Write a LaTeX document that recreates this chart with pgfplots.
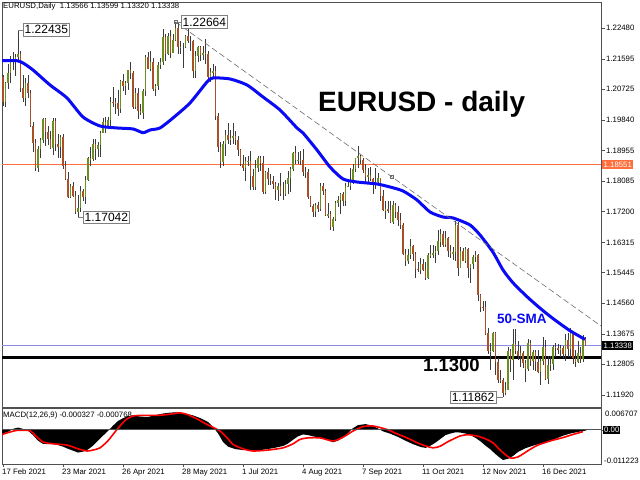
\documentclass[border=0pt]{standalone}
\usepackage{fontspec}
\setmainfont{Liberation Sans}
\usepackage{pgfplots}
\usepackage{pgfplotstable}
\pgfplotsset{compat=1.18}
\definecolor{bull}{RGB}{107,142,35}
\definecolor{bear}{RGB}{170,80,40}
\definecolor{wick}{RGB}{60,60,60}
\definecolor{orng}{RGB}{255,110,60}
\definecolor{lav}{RGB}{140,140,230}
\definecolor{frame}{RGB}{80,80,80}
\definecolor{smablue}{RGB}{10,10,245}
\definecolor{tline}{RGB}{110,110,110}
\newcommand{\sm}{\fontsize{7.8bp}{9bp}\selectfont}
\pgfplotstableread{
i o h l c
0 1.2107 1.2114 1.2023 1.2037
1 1.2037 1.2093 1.2022 1.2091
2 1.2091 1.2145 1.2074 1.2118
3 1.2118 1.2168 1.2091 1.2157
4 1.2157 1.2180 1.2128 1.2151
5 1.2151 1.2175 1.2111 1.2166
6 1.2166 1.2243 1.2150 1.2174
7 1.2174 1.2182 1.2065 1.2075
8 1.2075 1.2113 1.2035 1.2048
9 1.2048 1.2104 1.2025 1.2091
10 1.2091 1.2114 1.2047 1.2062
11 1.2062 1.2070 1.1963 1.1968
12 1.1968 1.1977 1.1893 1.1918
13 1.1918 1.1930 1.1836 1.1847
14 1.1847 1.1910 1.1835 1.1900
15 1.1900 1.1932 1.1873 1.1927
16 1.1927 1.1990 1.1919 1.1986
17 1.1986 1.1990 1.1910 1.1950
18 1.1950 1.1966 1.1913 1.1930
19 1.1930 1.1952 1.1899 1.1902
20 1.1902 1.1989 1.1884 1.1980
21 1.1980 1.1990 1.1896 1.1914
22 1.1914 1.1944 1.1874 1.1905
23 1.1905 1.1942 1.1873 1.1935
24 1.1935 1.1944 1.1842 1.1851
25 1.1851 1.1867 1.1810 1.1813
26 1.1813 1.1833 1.1760 1.1763
27 1.1763 1.1800 1.1760 1.1795
28 1.1795 1.1805 1.1762 1.1764
29 1.1764 1.1779 1.1712 1.1718
30 1.1718 1.1767 1.1704 1.1730
31 1.1730 1.1795 1.1720 1.1780
32 1.1780 1.1786 1.1750 1.1761
33 1.1761 1.1822 1.1742 1.1812
34 1.1812 1.1878 1.1809 1.1875
35 1.1875 1.1907 1.1852 1.1871
36 1.1871 1.1928 1.1865 1.1916
37 1.1916 1.1929 1.1870 1.1899
38 1.1899 1.1921 1.1876 1.1911
39 1.1911 1.1951 1.1876 1.1947
40 1.1947 1.1990 1.1945 1.1979
41 1.1979 1.1994 1.1946 1.1965
42 1.1965 1.1994 1.1957 1.1983
43 1.1983 1.2049 1.1964 1.2036
44 1.2036 1.2079 1.2020 1.2035
45 1.2035 1.2048 1.2002 1.2033
46 1.2033 1.2071 1.1995 1.2016
47 1.2016 1.2100 1.2005 1.2097
48 1.2097 1.2117 1.2068 1.2083
49 1.2083 1.2095 1.2056 1.2090
50 1.2090 1.2129 1.2071 1.2127
51 1.2127 1.2150 1.2103 1.2120
52 1.2120 1.2125 1.2016 1.2020
53 1.2020 1.2075 1.2016 1.2062
54 1.2062 1.2076 1.1986 1.2011
55 1.2011 1.2029 1.1997 1.2005
56 1.2005 1.2072 1.1986 1.2067
57 1.2067 1.2172 1.2052 1.2165
58 1.2165 1.2180 1.2130 1.2132
59 1.2132 1.2182 1.2125 1.2150
60 1.2150 1.2163 1.2068 1.2072
61 1.2072 1.2087 1.2052 1.2081
62 1.2081 1.2152 1.2071 1.2143
63 1.2143 1.2161 1.2131 1.2150
64 1.2150 1.2245 1.2143 1.2223
65 1.2223 1.2231 1.2153 1.2174
66 1.2174 1.2233 1.2172 1.2226
67 1.2226 1.2244 1.2161 1.2178
68 1.2178 1.2232 1.2178 1.2214
69 1.2214 1.2266 1.2211 1.2250
70 1.2250 1.2263 1.2175 1.2193
71 1.2193 1.2211 1.2173 1.2194
72 1.2194 1.2205 1.2133 1.2194
73 1.2194 1.2229 1.2191 1.2225
74 1.2225 1.2254 1.2207 1.2212
75 1.2212 1.2226 1.2184 1.2212
76 1.2212 1.2214 1.2104 1.2125
77 1.2125 1.2184 1.2104 1.2167
78 1.2167 1.2198 1.2150 1.2193
79 1.2193 1.2196 1.2153 1.2172
80 1.2172 1.2196 1.2158 1.2178
81 1.2178 1.2218 1.2144 1.2174
82 1.2174 1.2182 1.2093 1.2107
83 1.2107 1.2134 1.2093 1.2121
84 1.2121 1.2144 1.2105 1.2125
85 1.2125 1.2138 1.1985 1.1995
86 1.1995 1.2005 1.1892 1.1907
87 1.1907 1.1921 1.1847 1.1863
88 1.1863 1.1922 1.1850 1.1915
89 1.1915 1.1955 1.1879 1.1941
90 1.1941 1.1974 1.1915 1.1925
91 1.1925 1.1955 1.1913 1.1933
92 1.1933 1.1975 1.1916 1.1937
93 1.1937 1.1952 1.1911 1.1925
94 1.1925 1.1937 1.1879 1.1897
95 1.1897 1.1901 1.1851 1.1857
96 1.1857 1.1884 1.1838 1.1847
97 1.1847 1.1877 1.1807 1.1865
98 1.1865 1.1880 1.1850 1.1867
99 1.1867 1.1895 1.1782 1.1823
100 1.1823 1.1843 1.1783 1.1792
101 1.1792 1.1868 1.1781 1.1845
102 1.1845 1.1880 1.1833 1.1875
103 1.1875 1.1881 1.1836 1.1860
104 1.1860 1.1880 1.1772 1.1776
105 1.1776 1.1837 1.1772 1.1834
106 1.1834 1.1847 1.1796 1.1813
107 1.1813 1.1827 1.1796 1.1807
108 1.1807 1.1823 1.1786 1.1800
109 1.1800 1.1804 1.1753 1.1781
110 1.1781 1.1801 1.1751 1.1795
111 1.1795 1.1831 1.1765 1.1771
112 1.1771 1.1804 1.1754 1.1771
113 1.1771 1.1812 1.1765 1.1800
114 1.1800 1.1838 1.1770 1.1818
115 1.1818 1.1849 1.1778 1.1844
116 1.1844 1.1892 1.1838 1.1888
117 1.1888 1.1909 1.1857 1.1868
118 1.1868 1.1892 1.1857 1.1869
119 1.1869 1.1896 1.1853 1.1868
120 1.1868 1.1900 1.1823 1.1835
121 1.1835 1.1849 1.1817 1.1834
122 1.1834 1.1844 1.1755 1.1761
123 1.1761 1.1766 1.1733 1.1735
124 1.1735 1.1743 1.1705 1.1719
125 1.1719 1.1744 1.1706 1.1739
126 1.1739 1.1748 1.1719 1.1728
127 1.1728 1.1802 1.1722 1.1793
128 1.1793 1.1802 1.1768 1.1779
129 1.1779 1.1784 1.1706 1.1711
130 1.1711 1.1744 1.1702 1.1712
131 1.1712 1.1722 1.1666 1.1676
132 1.1676 1.1704 1.1664 1.1699
133 1.1699 1.1752 1.1692 1.1746
134 1.1746 1.1764 1.1734 1.1754
135 1.1754 1.1775 1.1712 1.1772
136 1.1772 1.1778 1.1735 1.1750
137 1.1750 1.1802 1.1735 1.1794
138 1.1794 1.1808 1.1790 1.1795
139 1.1795 1.1846 1.1783 1.1807
140 1.1807 1.1857 1.1801 1.1843
141 1.1843 1.1875 1.1835 1.1875
142 1.1875 1.1909 1.1847 1.1880
143 1.1880 1.1883 1.1858 1.1869
144 1.1869 1.1875 1.1830 1.1839
145 1.1839 1.1856 1.1803 1.1819
146 1.1819 1.1845 1.1800 1.1826
147 1.1826 1.1850 1.1809 1.1813
148 1.1813 1.1817 1.1772 1.1806
149 1.1806 1.1845 1.1784 1.1805
150 1.1805 1.1830 1.1801 1.1816
151 1.1816 1.1818 1.1751 1.1766
152 1.1766 1.1783 1.1723 1.1725
153 1.1725 1.1750 1.1700 1.1727
154 1.1727 1.1752 1.1716 1.1724
155 1.1724 1.1752 1.1686 1.1690
156 1.1690 1.1750 1.1685 1.1740
157 1.1740 1.1744 1.1701 1.1720
158 1.1720 1.1737 1.1680 1.1696
159 1.1696 1.1716 1.1669 1.1682
160 1.1682 1.1686 1.1596 1.1597
161 1.1597 1.1612 1.1563 1.1578
162 1.1578 1.1612 1.1568 1.1596
163 1.1596 1.1640 1.1584 1.1620
164 1.1620 1.1624 1.1579 1.1598
165 1.1598 1.1603 1.1529 1.1555
166 1.1555 1.1576 1.1545 1.1553
167 1.1553 1.1587 1.1539 1.1569
168 1.1569 1.1583 1.1548 1.1553
169 1.1553 1.1574 1.1524 1.1528
170 1.1528 1.1600 1.1525 1.1594
171 1.1594 1.1624 1.1585 1.1597
172 1.1597 1.1624 1.1587 1.1601
173 1.1601 1.1620 1.1571 1.1608
174 1.1608 1.1668 1.1596 1.1634
175 1.1634 1.1669 1.1618 1.1655
176 1.1655 1.1664 1.1618 1.1623
177 1.1623 1.1665 1.1619 1.1644
178 1.1644 1.1647 1.1589 1.1607
179 1.1607 1.1625 1.1586 1.1597
180 1.1597 1.1617 1.1582 1.1604
181 1.1604 1.1692 1.1579 1.1681
182 1.1681 1.1690 1.1535 1.1558
183 1.1558 1.1617 1.1558 1.1608
184 1.1608 1.1616 1.1577 1.1579
185 1.1579 1.1617 1.1571 1.1612
186 1.1612 1.1616 1.1529 1.1557
187 1.1557 1.1569 1.1513 1.1568
188 1.1568 1.1595 1.1555 1.1590
189 1.1590 1.1608 1.1576 1.1594
190 1.1594 1.1598 1.1464 1.1479
191 1.1479 1.1482 1.1432 1.1446
192 1.1446 1.1464 1.1433 1.1444
193 1.1444 1.1464 1.1366 1.1369
194 1.1369 1.1386 1.1310 1.1319
195 1.1319 1.1342 1.1264 1.1320
196 1.1320 1.1374 1.1315 1.1370
197 1.1370 1.1374 1.1250 1.1287
198 1.1287 1.1298 1.1226 1.1236
199 1.1236 1.1264 1.1226 1.1235
200 1.1235 1.1240 1.1186 1.1199
201 1.1199 1.1229 1.1192 1.1207
202 1.1207 1.1330 1.1205 1.1318
203 1.1318 1.1323 1.1259 1.1292
204 1.1292 1.1383 1.1235 1.1338
205 1.1338 1.1383 1.1309 1.1320
206 1.1320 1.1347 1.1292 1.1305
207 1.1305 1.1334 1.1273 1.1314
208 1.1314 1.1319 1.1270 1.1284
209 1.1284 1.1294 1.1228 1.1266
210 1.1266 1.1353 1.1260 1.1343
211 1.1343 1.1351 1.1275 1.1289
212 1.1289 1.1322 1.1265 1.1316
213 1.1316 1.1321 1.1262 1.1286
214 1.1286 1.1322 1.1256 1.1258
215 1.1258 1.1298 1.1222 1.1290
216 1.1290 1.1360 1.1279 1.1331
217 1.1331 1.1350 1.1234 1.1239
218 1.1239 1.1304 1.1223 1.1279
219 1.1279 1.1305 1.1262 1.1282
220 1.1282 1.1335 1.1264 1.1331
221 1.1331 1.1342 1.1301 1.1328
222 1.1328 1.1339 1.1311 1.1321
223 1.1321 1.1335 1.1300 1.1327
224 1.1327 1.1333 1.1298 1.1310
225 1.1310 1.1368 1.1291 1.1349
226 1.1349 1.1369 1.1301 1.1325
227 1.1325 1.1386 1.1302 1.1370
228 1.1370 1.1377 1.1281 1.1298
229 1.1298 1.1321 1.1273 1.1287
230 1.1287 1.1346 1.1284 1.1312
231 1.1312 1.1331 1.1285 1.1296
232 1.1296 1.1364 1.1286 1.1359
233 1.13566 1.13599 1.13320 1.13338
}\ohlc
\pgfplotstableread{
i v
-0.4 1.21547
5.5 1.21547
8 1.21480
12 1.21279
18.8 1.20847
25.6 1.20473
32 1.19925
38.8 1.19666
45.6 1.19609
52 1.19580
56 1.19473
58.8 1.19551
62.8 1.19609
68 1.19897
74.8 1.20329
81.6 1.20933
84 1.21049
90.8 1.21020
97.6 1.20847
104 1.20501
110.8 1.20127
117.6 1.19609
120 1.19465
125.6 1.18975
130.8 1.18485
136 1.18140
141.6 1.18053
149.6 1.17996
154.8 1.17909
160 1.17794
165.6 1.17535
170.8 1.17189
176 1.17045
180 1.17017
186.8 1.16815
190.8 1.16527
196 1.16030
200 1.15520
204 1.15150
209.6 1.14750
214.8 1.14420
220 1.14120
226.8 1.13770
232.8 1.13520
}\sma
\pgfplotstableread{
i v
-0.4 -0.0014
2 -0.0008
4 0.0002
6 0.0006
8 0.0002
10 -0.0004
12 -0.0018
14 -0.0036
16 -0.0046
18 -0.0047
20 -0.0046
22 -0.0050
24 -0.0055
26 -0.0062
28 -0.0068
30 -0.0074
32 -0.0071
34 -0.0064
36 -0.0052
38 -0.0036
40 -0.0020
42 -0.0005
44 0.0012
46 0.0027
48 0.0036
50 0.0043
52 0.0045
55 0.0041
58 0.0040
61 0.0046
64 0.0051
67 0.0054
70 0.0055
73 0.0051
76 0.0045
79 0.0036
82 0.0024
84 0.0008
86 -0.0012
88 -0.0040
90 -0.0055
93 -0.0063
96 -0.0066
100 -0.0067
104 -0.0065
108 -0.0060
112 -0.0053
114 -0.0045
116 -0.0033
118 -0.0022
120 -0.0016
122 -0.0018
124 -0.0022
126 -0.0025
128 -0.0028
130 -0.0035
132 -0.0041
134 -0.0036
136 -0.0026
138 -0.0012
140 0.0004
142 0.0014
145 0.0017
148 0.0012
150 0.0003
152 -0.0006
155 -0.0014
158 -0.0024
161 -0.0036
164 -0.0047
167 -0.0056
169 -0.0059
171 -0.0052
173 -0.0042
175 -0.0030
177 -0.0018
179 -0.0013
181 -0.0009
183 -0.0010
185 -0.0013
187 -0.0018
189 -0.0027
191 -0.0038
193 -0.0052
195 -0.0064
197 -0.0079
199 -0.0092
200 -0.0098
202 -0.0094
204 -0.0085
206 -0.0072
209 -0.0060
212 -0.0052
215 -0.0045
218 -0.0040
221 -0.0030
224 -0.0020
227 -0.0013
230 -0.0008
233.4 -0.0003
}\macd
\pgfplotstableread{
i v
-0.4 -0.0016
3 -0.0008
5.6 -0.0003
10.8 -0.0004
13 -0.0020
16 -0.0040
20 -0.0046
25.6 -0.0050
30 -0.0062
33.6 -0.0069
36 -0.0066
38.8 -0.0059
42 -0.0036
45.6 0.0000
49 0.0030
52 0.0043
56 0.0045
61.6 0.0045
66 0.0048
70.8 0.0053
74 0.0047
78 0.0032
81.6 0.0016
86.8 -0.0005
90 -0.0030
92 -0.0048
96 -0.0062
100 -0.0069
106 -0.0066
112 -0.0059
116 -0.0046
118.8 -0.0032
122 -0.0027
126.8 -0.0027
132 -0.0037
136 -0.0025
140 -0.0005
144 0.0009
148 0.0011
153.6 0.0000
157 -0.0012
161.6 -0.0027
167 -0.0047
172 -0.0059
175 -0.0053
178 -0.0039
182.8 -0.0021
186 -0.0017
189.6 -0.0021
193 -0.0030
196 -0.0043
199 -0.0067
202.8 -0.0091
206 -0.0088
210.8 -0.0064
214 -0.0050
218.8 -0.0037
224 -0.0026
228 -0.0016
232 -0.0007
}\signal
\begin{document}
\begin{tikzpicture}
\fill[white] (0bp,0bp) rectangle (640bp,480bp);
\begin{axis}[at={(2bp,73bp)}, anchor=south west, scale only axis,
  width=599bp, height=405bp,
  xmin=-0.4, xmax=239.2, ymin=1.11573, ymax=1.23237,
  axis line style={frame, line width=0.7bp}, xtick=\empty,
  ytick={1.11920,1.12805,1.13675,1.14560,1.15445,1.16315,1.17200,1.18085,1.18955,1.19840,1.20725,1.21595,1.22480},
  yticklabels={1.11920,1.12805,1.13675,1.14560,1.15445,1.16315,1.17200,1.18085,1.18955,1.19840,1.20725,1.21595,1.22480},
  ytick pos=right, tick align=outside, major tick length=4bp,
  tick style={frame, line width=0.5bp},
  yticklabel style={font=\sm, anchor=west, inner sep=1bp},
  /pgf/number format/assume math mode=true]
% horizontal levels
\addplot[orng, line width=0.8bp] coordinates {(-0.4,1.18551) (239.2,1.18551)};
\addplot[lav, line width=0.8bp] coordinates {(-0.4,1.13338) (239.2,1.13338)};
\addplot[black, line width=3bp] coordinates {(-0.4,1.1300) (239.2,1.1300)};
% wicks
\addplot[draw=none, mark=none, error bars/.cd, y dir=both, y explicit, error mark=none,
  error bar style={draw=wick, solid, line width=0.8bp}]
  table[x=i, y expr={(\thisrow{h}+\thisrow{l})/2}, y error expr={(\thisrow{h}-\thisrow{l})/2}] {\ohlc};
% bull bodies
\addplot[draw=none, mark=none, error bars/.cd, y dir=both, y explicit, error mark=none,
  error bar style={draw=bull, solid, line width=1.8bp}]
  table[x=i, y expr={(\thisrow{o}+\thisrow{c})/2}, y error expr={max(\thisrow{c}-\thisrow{o},0)/2}] {\ohlc};
% bear bodies
\addplot[draw=none, mark=none, error bars/.cd, y dir=both, y explicit, error mark=none,
  error bar style={draw=bear, solid, line width=1.8bp}]
  table[x=i, y expr={(\thisrow{o}+\thisrow{c})/2}, y error expr={max(\thisrow{o}-\thisrow{c},0)/2}] {\ohlc};
% 50 SMA
\addplot[smablue, line width=3bp, smooth, tension=0.4] table[x=i, y=v] {\sma};
% trend line
\addplot[tline, line width=0.6bp, dash pattern=on 6bp off 3bp, mark=square, mark size=1.5bp,
  mark options={solid, tline, line width=0.6bp}, mark indices={1,2}]
  coordinates {(69,1.22664) (155.6,1.18198) (239.2,1.13906)};
% price labels
\draw[gray, line width=0.6bp] (axis cs:6,1.22435) -- (axis cs:8,1.22435);
\node[draw=gray, fill=white, anchor=west, inner xsep=1.5bp, inner ysep=2bp, font=\fontsize{12bp}{14bp}\selectfont] at (axis cs:8,1.22435) {1.22435};
\draw[gray, line width=0.6bp] (axis cs:30,1.17042) -- (axis cs:32,1.17042);
\node[draw=gray, fill=white, anchor=west, inner xsep=1.5bp, inner ysep=2bp, font=\fontsize{12bp}{14bp}\selectfont] at (axis cs:32,1.17042) {1.17042};
\draw[gray, line width=0.6bp] (axis cs:69,1.22664) -- (axis cs:71.2,1.22664);
\node[draw=gray, fill=white, anchor=west, inner xsep=1.5bp, inner ysep=2bp, font=\fontsize{12bp}{14bp}\selectfont] at (axis cs:71.2,1.22664) {1.22664};
\draw[gray, line width=0.6bp] (axis cs:197.2,1.11862) -- (axis cs:200,1.11862);
\node[draw=gray, fill=white, anchor=east, inner xsep=1.5bp, inner ysep=2bp, font=\fontsize{12bp}{14bp}\selectfont] at (axis cs:197.2,1.11862) {1.11862};
\end{axis}
% texts on main pane
\node[anchor=base west, inner sep=0pt, font=\sm] at (3bp,471bp) {EURUSD,Daily\ \ 1.13566 1.13599 1.13320 1.13338};
\node[anchor=base west, inner sep=0pt, font=\fontsize{28bp}{30bp}\selectfont\bfseries] at (318bp,368bp) {EURUSD - daily};
\node[anchor=base west, inner sep=0pt, font=\fontsize{18.5bp}{20bp}\selectfont\bfseries] at (423bp,108bp) {1.1300};
\node[anchor=base west, inner sep=0pt, font=\fontsize{13.5bp}{15bp}\selectfont\bfseries, text=smablue] at (497bp,156bp) {50-SMA};
\node[anchor=west, inner xsep=1.5bp, inner ysep=1.5bp, fill=orng, text=white, font=\sm] at (602bp,315.3bp) {1.18551};
\node[anchor=west, inner xsep=1.5bp, inner ysep=1.5bp, fill=black, text=white, font=\sm] at (602bp,134.3bp) {1.13338};
% MACD label behind histogram
\node[anchor=base west, inner sep=0pt, font=\sm] at (3bp,62.5bp) {MACD(12,26,9) -0.000327 -0.000768};
\begin{axis}[at={(2bp,15.5bp)}, anchor=south west, scale only axis,
  width=599bp, height=56bp,
  xmin=-0.4, xmax=239.2, ymin=-0.011223, ymax=0.006707,
  axis line style={frame, line width=0.7bp}, ytick=\empty,
  xtick={0,24,48,72,96,120,144,168,192,216},
  xticklabels={17 Feb 2021,23 Mar 2021,26 Apr 2021,28 May 2021,1 Jul 2021,4 Aug 2021,7 Sep 2021,11 Oct 2021,12 Nov 2021,16 Dec 2021},
  xtick pos=bottom, tick align=outside, major tick length=3bp,
  tick style={frame, line width=0.5bp},
  xticklabel style={font=\sm, anchor=north west, inner sep=0pt, xshift=-1bp, yshift=-1bp}]
\addplot[fill=black, draw=none] table[x=i, y=v] {\macd} \closedcycle;
\addplot[red, line width=1.6bp, smooth, tension=0.4] table[x=i, y=v] {\signal};
\addplot[frame, line width=0.8bp] coordinates {(-0.4,0) (239.2,0)};
\end{axis}
\draw[frame, line width=0.8bp] (601bp,50bp) -- (606bp,50bp);
\node[anchor=west, inner sep=1bp, font=\sm] at (604bp,66bp) {0.006707};
\node[anchor=west, inner xsep=1bp, inner ysep=1bp, fill=black, text=white, font=\sm] at (603bp,50bp) {0.00};
\node[anchor=west, inner sep=1bp, font=\sm] at (603bp,19bp) {-0.011223};
\pgfresetboundingbox
\path[use as bounding box] (0bp,0bp) rectangle (640bp,480bp);
\end{tikzpicture}
\end{document}
